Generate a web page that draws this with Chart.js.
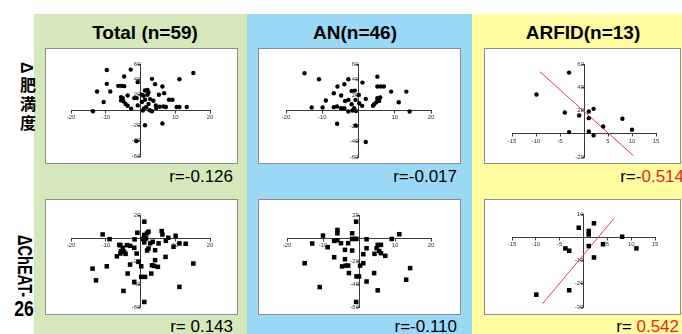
<!DOCTYPE html>
<html><head><meta charset="utf-8">
<script src="https://cdn.jsdelivr.net/npm/chart.js@4.4.1/dist/chart.umd.min.js"></script>
<style>
body{margin:0;width:682px;height:334px;position:relative;overflow:hidden;background:#fff;font-family:"Liberation Sans",Arial,sans-serif;}
.col{position:absolute;top:14px;height:320px;}
.box{position:absolute;background:#fff;border:1px solid #8c8c8c;box-sizing:border-box;}
canvas{position:absolute;}
.hdr{position:absolute;top:23px;width:200px;font-weight:bold;font-size:19px;line-height:19px;text-align:center;color:#000;}
.r{position:absolute;font-size:17px;line-height:17px;text-align:right;white-space:pre;color:#000;}
.r .sig{color:#e0281e;}
.lab{position:absolute;font-weight:bold;color:#000;}
</style></head>
<body>
<div class="col" style="left:34px;width:213px;background:#d5e8bc"></div>
<div class="col" style="left:247px;width:225px;background:#9bd8f5"></div>
<div class="col" style="left:472px;width:210px;background:#fffba0"></div>

<div id="hdrs"></div>
<div id="rowlabels">
  <div class="lab" style="left:16px;top:62px;writing-mode:vertical-rl;text-orientation:mixed;font-size:16px;line-height:20px;letter-spacing:3px;font-family:'Liberation Sans','Noto Sans CJK JP',sans-serif;" id="rl1"></div>
  <div class="lab" style="left:15px;top:235px;writing-mode:vertical-rl;text-orientation:mixed;font-size:20px;line-height:20px;transform:scaleY(0.73);transform-origin:top left;" id="rl2a"></div>
  <div class="lab" style="left:4px;top:298px;width:40px;text-align:center;font-size:22px;line-height:22px;transform:scaleX(0.8);transform-origin:center;" id="rl2b"></div>
</div>

<div class="box" style="left:45px;top:48px;width:193px;height:116px"></div>
<div class="box" style="left:258px;top:48px;width:203px;height:116px"></div>
<div class="box" style="left:484px;top:48px;width:197px;height:116px"></div>
<div class="box" style="left:45px;top:199px;width:193px;height:116px"></div>
<div class="box" style="left:258px;top:199px;width:203px;height:116px"></div>
<div class="box" style="left:484px;top:199px;width:197px;height:116px"></div>

<canvas id="c1" width="193" height="116" style="left:45px;top:48px"></canvas>
<canvas id="c2" width="203" height="116" style="left:258px;top:48px"></canvas>
<canvas id="c3" width="197" height="116" style="left:484px;top:48px"></canvas>
<canvas id="c4" width="193" height="116" style="left:45px;top:199px"></canvas>
<canvas id="c5" width="203" height="116" style="left:258px;top:199px"></canvas>
<canvas id="c6" width="197" height="116" style="left:484px;top:199px"></canvas>

<div id="rlabels"></div>

<script>
// ---- text ----
const groupTitles = ['Total (n=59)', 'AN(n=46)', 'ARFID(n=13)'];
const rowTitles = ['Δ肥満度', 'ΔChEAT-', '26'];
const rValues = ['-0.126', '-0.017', '-0.514', '0.143', '-0.110', '0.542'];
const rSignificant = [false, false, true, false, false, true];

// ---- data: [x, y] ----
const totalBmi = [[-13.7,-1.7],[-12.5,24.2],[-9.7,52.2],[-9.7,34.1],[-10.6,10.4],[-8.7,24.2],[-6.4,31.5],[-5.5,31.5],[-4.7,31.1],[-4.7,43.6],[-2.8,52.7],[-0.8,36.3],[-5.6,16.8],[-5.1,15.5],[-5.6,12.5],[-4.9,11.2],[-3.7,19.0],[-3.7,5.6],[-4.3,7.8],[-2.7,1.7],[-1.8,15.5],[-1.1,15.5],[-0.8,6.0],[0.4,19.9],[0.9,18.6],[0.4,10.4],[1.3,25.5],[2.0,26.3],[2.3,22.9],[2.0,19.9],[1.3,13.4],[1.6,3.5],[2.3,7.8],[2.6,-0.4],[3.3,-1.7],[3.3,40.6],[2.8,14.2],[3.7,12.1],[4.2,33.7],[4.4,6.0],[4.5,2.6],[5.3,19.9],[5.5,4.3],[6.3,30.6],[6.8,22.0],[6.6,4.7],[7.3,3.9],[8.2,13.4],[9.2,13.4],[10.4,3.9],[11.2,3.9],[13.3,3.9],[11.2,40.1],[15.2,48.3],[1.3,-19.9],[6.3,-17.7],[-1.2,-40.6],[0.7,-0.8],[1.0,2.0]];
const anBmi = [[-14.9,48.0],[-10.9,40.3],[-12.9,3.9],[-9.9,3.9],[-9.0,12.9],[-6.8,22.3],[-6.8,4.3],[-5.8,30.9],[-5.9,5.1],[-4.8,19.3],[-4.8,3.0],[-3.9,33.9],[-3.9,3.0],[-3.7,12.4],[-2.8,40.3],[-2.8,13.7],[-2.8,-1.3],[-1.9,25.3],[-1.0,25.7],[-1.9,8.1],[-1.2,3.0],[-0.8,13.7],[-1.7,0.0],[0.1,20.1],[0.2,9.4],[1.1,36.0],[1.0,6.0],[2.0,15.0],[-0.8,-19.3],[-5.9,-17.0],[2.0,-40.7],[4.0,6.0],[4.3,8.1],[4.9,10.7],[5.2,43.7],[5.2,30.9],[6.1,30.9],[7.0,30.9],[5.2,15.9],[6.0,16.7],[5.7,12.4],[9.0,24.4],[13.2,24.4],[11.1,10.7],[14.1,-1.3],[-0.7,-0.8]];
const arfidBmi = [[-9.9,33.7],[-3.1,52.6],[-4.0,18.3],[-3.1,1.4],[-1.0,15.7],[1.0,19.1],[1.0,13.4],[2.0,21.4],[1.0,2.0],[2.0,-1.4],[4.0,6.3],[8.0,12.9],[10.0,3.4]];
const arfidBmiFit = [[-9.2,53.4],[10.3,-18.9]];

const totalCheat = [[-10.9,3.1],[-8.9,-1.0],[1.1,14.2],[-0.9,4.6],[-1.7,-1.2],[1.1,1.7],[1.6,-0.4],[2.3,5.5],[2.8,-4.7],[3.5,-3.3],[5.2,-4.7],[6.1,6.0],[6.3,3.1],[7.3,-2.5],[8.0,0.2],[10.1,1.9],[9.5,-7.6],[11.2,-4.7],[13.0,-5.0],[2.3,-9.1],[4.2,-10.6],[-5.8,-6.2],[-5.1,-8.5],[-5.6,-11.5],[-4.7,-12.0],[-5.8,-13.5],[-6.8,-15.9],[-3.9,-6.2],[-3.0,-6.8],[-1.8,-8.5],[-1.1,-13.5],[-3.0,-23.1],[-0.6,-20.7],[0.2,-24.6],[3.3,-23.7],[4.2,-19.3],[3.9,-24.3],[5.0,-25.1],[7.2,-16.4],[15.2,-22.2],[-13.8,-26.6],[-9.7,-24.6],[-12.8,-36.8],[-3.7,-30.9],[-1.8,-38.2],[0.2,-33.8],[1.3,-33.8],[3.1,-30.9],[-4.9,-46.0],[11.2,-42.5],[1.1,-55.6],[0.7,-0.8],[1.9,-10.9],[-6.1,-6.0],[1.9,4.1],[1.1,2.7],[1.1,-3.8],[1.1,-0.8],[-4.3,-13.8]];
const anCheat = [[-0.8,14.2],[-6.0,7.0],[-6.0,4.1],[-1.9,4.1],[-10.0,2.1],[-8.7,-8.0],[-13.0,-4.8],[-6.9,-2.5],[-5.0,-4.5],[-3.0,-4.5],[-1.9,-0.8],[-1.1,-0.8],[-0.7,-0.8],[2.1,-1.1],[9.1,-0.8],[11.2,3.3],[-3.9,-10.3],[-1.9,-10.9],[2.1,-8.9],[1.2,-14.1],[-6.9,-16.7],[-3.9,-18.4],[5.2,-6.0],[6.1,-6.0],[4.9,-8.9],[5.6,-11.3],[6.1,-13.2],[4.3,-13.8],[7.3,-15.5],[-15.1,-21.9],[-4.7,-24.7],[-3.7,-24.0],[-3.0,-24.0],[0.3,-24.0],[1.2,-21.9],[-2.8,-30.5],[-0.7,-33.4],[0.0,-33.4],[4.2,-30.5],[2.1,-37.8],[14.2,-26.2],[13.1,-36.3],[-10.9,-42.7],[5.2,-45.5],[-0.8,-55.6],[-6.0,-2.0]];
const arfidCheat = [[2.2,6.0],[-1.0,4.1],[1.1,2.7],[1.1,1.2],[8.1,0.2],[4.1,-3.0],[1.1,-3.8],[-3.8,-4.8],[-3.0,-5.8],[11.1,-4.8],[2.2,-8.7],[-9.9,-24.7],[-3.0,-22.8]];
const arfidCheatFit = [[-8.6,-28.6],[6.4,8.1]];

// axis ranges [min, max, step]
const xWide = [-20, 20, 10];
const xNarrow = [-15, 15, 5];
const yBmiWide = [-60, 60, 20];
const yBmiArfid = [-20, 60, 20];
const yCheatWide = [-60, 20, 20];
const yCheatArfid = [-30, 10, 10];

// ---- headers & labels ----
const hdrCenters = [145, 355, 583];
const hdrs = document.getElementById('hdrs');
groupTitles.forEach((t, i) => {
  const d = document.createElement('div');
  d.className = 'hdr';
  d.style.left = (hdrCenters[i] - 100) + 'px';
  d.textContent = t;
  hdrs.appendChild(d);
});
document.getElementById('rl1').textContent = rowTitles[0];
document.getElementById('rl2a').textContent = rowTitles[1];
document.getElementById('rl2b').textContent = rowTitles[2];

const rRight = [233, 457, 684, 233, 457, 679];
const rTop = [168, 168, 168, 318, 318, 318];
const rl = document.getElementById('rlabels');
rValues.forEach((v, i) => {
  const d = document.createElement('div');
  d.className = 'r';
  d.style.right = (682 - rRight[i]) + 'px';
  d.style.top = rTop[i] + 'px';
  const neg = v.startsWith('-');
  const abs = neg ? v.slice(1) : v;
  d.innerHTML = 'r=' + (neg ? '-' : ' ') + '<span class="' + (rSignificant[i] ? 'sig' : '') + '">' + abs + '</span>';
  rl.appendChild(d);
});

// ---- charts ----
const axisColor = '#3a3a3a';
function axis(range, pos) {
  return {
    type: 'linear', min: range[0], max: range[1], position: pos,
    border: {display: true, color: axisColor, width: 1},
    grid: {display: true, drawOnChartArea: false, drawTicks: true, tickLength: 2.5, color: axisColor, lineWidth: 1},
    ticks: {
      stepSize: range[2], autoSkip: false, maxRotation: 0, padding: 1,
      color: '#333', font: {size: 6, family: 'Liberation Sans'},
      callback: v => (v === 0 ? '' : String(v))
    }
  };
}
function makeChart(id, pts, shape, xr, yr, pad, fit) {
  const datasets = [{
    type: 'scatter',
    data: pts.map(p => ({x: p[0], y: p[1]})),
    pointStyle: shape,
    pointRadius: shape === 'rect' ? 3.2 : 2.2,
    pointBackgroundColor: '#000', pointBorderColor: '#000', pointBorderWidth: 0
  }];
  if (fit) {
    datasets.push({
      type: 'line', showLine: true,
      data: fit.map(p => ({x: p[0], y: p[1]})),
      borderColor: '#d8404f', borderWidth: 1, pointRadius: 0, fill: false
    });
  }
  new Chart(document.getElementById(id), {
    type: 'scatter',
    data: {datasets},
    options: {
      responsive: false, animation: false, events: [],
      layout: {padding: pad},
      plugins: {legend: {display: false}, tooltip: {enabled: false}},
      scales: {x: axis(xr, {y: 0}), y: axis(yr, {x: 0})}
    }
  });
}
makeChart('c1', totalBmi, 'circle', xWide, yBmiWide, {left: 26, right: 28, top: 16, bottom: 8});
makeChart('c2', anBmi, 'circle', xWide, yBmiWide, {left: 28, right: 30, top: 16, bottom: 7});
makeChart('c3', arfidBmi, 'circle', xNarrow, yBmiArfid, {left: 28, right: 25, top: 16, bottom: 7}, arfidBmiFit);
makeChart('c4', totalCheat, 'rect', xWide, yCheatWide, {left: 26, right: 28, top: 16, bottom: 8});
makeChart('c5', anCheat, 'rect', xWide, yCheatWide, {left: 29, right: 30, top: 16, bottom: 8});
makeChart('c6', arfidCheat, 'rect', xNarrow, yCheatArfid, {left: 28, right: 26, top: 15, bottom: 8}, arfidCheatFit);
</script>
</body></html>
